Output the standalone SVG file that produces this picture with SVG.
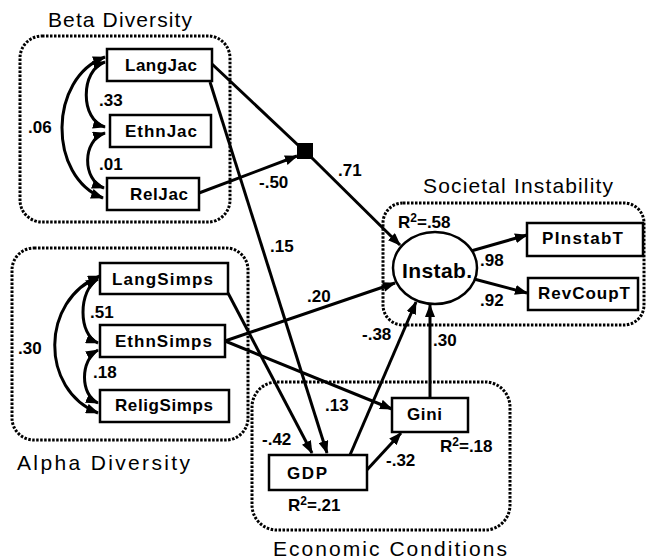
<svg xmlns="http://www.w3.org/2000/svg" width="647" height="560" viewBox="0 0 647 560">
<defs>
<marker id="ah" markerUnits="userSpaceOnUse" markerWidth="13" markerHeight="10" refX="12" refY="5" orient="auto-start-reverse" viewBox="0 0 13 10">
<path d="M0,0 L13,5 L0,10 z" fill="#000"/>
</marker>
<style>
.grp{fill:none;stroke:#000;stroke-width:3;stroke-dasharray:2.5 1.5}
.ttl{font-family:"Liberation Sans",Arial,sans-serif;font-size:21px;fill:#000}
.box{fill:#fff;stroke:#000;stroke-width:2.5}
.nt{font-family:"Liberation Sans",Arial,sans-serif;font-size:17px;font-weight:bold;fill:#000}
.lb{font-family:"Liberation Sans",Arial,sans-serif;font-size:17px;font-weight:bold;fill:#000}
.cn{fill:none;stroke:#000;stroke-width:3}
.arr{marker-end:url(#ah)}
.dbl{marker-start:url(#ah);marker-end:url(#ah)}
</style>
</defs>
<rect width="647" height="560" fill="#fff"/>

<g id="groups">
<rect class="grp" x="20" y="36" width="210" height="186" rx="22"/>
<text class="ttl" x="48" y="27" textLength="144" lengthAdjust="spacing">Beta Diversity</text>
<rect class="grp" x="12" y="248" width="236" height="192" rx="22"/>
<text class="ttl" x="17" y="470" textLength="173" lengthAdjust="spacing">Alpha Diversity</text>
<rect class="grp" x="383" y="203" width="261" height="122" rx="20"/>
<text class="ttl" x="423" y="193" textLength="190" lengthAdjust="spacing">Societal Instability</text>
<rect class="grp" x="252" y="382" width="258" height="148" rx="25"/>
<text class="ttl" x="273" y="556" textLength="234" lengthAdjust="spacing">Economic Conditions</text>
</g>

<g id="connectors">
<path class="cn" d="M212,64 L299,146"/>
<path class="cn arr" stroke-width="2.5" d="M311,157 L400,245"/>
<path class="cn arr" stroke-width="4" d="M199,193 L297,156"/>
<path class="cn arr" stroke-width="2.5" d="M210,82 L327,453"/>
<path class="cn arr" stroke-width="2.5" d="M228,293 L312,453"/>
<path class="cn arr" stroke-width="4" d="M225,341 L395,283"/>
<path class="cn arr" stroke-width="4" d="M225,341 L392,409"/>
<path class="cn arr" stroke-width="4.5" d="M350,455 L416,302"/>
<path class="cn arr" stroke-width="3.5" d="M430,398 L430,305"/>
<path class="cn arr" stroke-width="3" d="M365,472 L401,433"/>
<path class="cn arr" stroke-width="4" d="M471,251 L527,235"/>
<path class="cn arr" stroke-width="4" d="M474,279 L527,293"/>
<path class="cn dbl" stroke-width="3.5" d="M105,62 C80,70 80,120 105,127"/>
<path class="cn dbl" stroke-width="3.5" d="M105,133 C82,140 82,180 104,188"/>
<path class="cn dbl" stroke-width="3" d="M105,57 C48,78 48,177 103,198"/>
<path class="cn dbl" stroke-width="3.5" d="M98,279 C78,290 78,335 98,343"/>
<path class="cn dbl" stroke-width="3.5" d="M98,350 C80,360 80,395 98,403"/>
<path class="cn dbl" stroke-width="3.5" d="M100,276 C40,300 40,390 98,413"/>
</g>

<g id="labels">
<text class="lb" x="99" y="106">.33</text>
<text class="lb" x="28" y="133">.06</text>
<text class="lb" x="99" y="170">.01</text>
<text class="lb" x="259" y="188">-.50</text>
<text class="lb" x="338" y="176">.71</text>
<text class="lb" x="270" y="252">.15</text>
<text class="lb" x="307" y="302">.20</text>
<text class="lb" x="90" y="318">.51</text>
<text class="lb" x="18" y="354">.30</text>
<text class="lb" x="93" y="378">.18</text>
<text class="lb" x="262" y="445">-.42</text>
<text class="lb" x="325" y="411">.13</text>
<text class="lb" x="362" y="340">-.38</text>
<text class="lb" x="433" y="346">.30</text>
<text class="lb" x="386" y="466">-.32</text>
<text class="lb" x="480" y="266">.98</text>
<text class="lb" x="480" y="306">.92</text>
<text class="lb" x="398" y="228">R<tspan font-size="12" dy="-6">2</tspan><tspan dy="6">=.58</tspan></text>
<text class="lb" x="440" y="452">R<tspan font-size="12" dy="-6">2</tspan><tspan dy="6">=.18</tspan></text>
<text class="lb" x="288" y="511">R<tspan font-size="12" dy="-6">2</tspan><tspan dy="6">=.21</tspan></text>
</g>

<g id="square"><rect x="297" y="143" width="16" height="16" fill="#000"/></g>

<g id="LangJac"><rect class="box" x="107" y="49" width="105" height="32"/><text class="nt" x="125" y="71" textLength="72" lengthAdjust="spacing">LangJac</text></g>
<g id="EthnJac"><rect class="box" x="110" y="115" width="101" height="32"/><text class="nt" x="125" y="137" textLength="72" lengthAdjust="spacing">EthnJac</text></g>
<g id="RelJac"><rect class="box" x="107" y="178" width="92" height="32"/><text class="nt" x="130" y="200" textLength="58" lengthAdjust="spacing">RelJac</text></g>

<g id="LangSimps"><rect class="box" x="100" y="263" width="128" height="31"/><text class="nt" x="112" y="285" textLength="101" lengthAdjust="spacing">LangSimps</text></g>
<g id="EthnSimps"><rect class="box" x="100" y="325" width="125" height="32"/><text class="nt" x="115" y="347" textLength="97" lengthAdjust="spacing">EthnSimps</text></g>
<g id="ReligSimps"><rect class="box" x="100" y="390" width="129" height="32"/><text class="nt" x="115" y="411" textLength="98" lengthAdjust="spacing">ReligSimps</text></g>

<g id="Instab"><ellipse cx="435" cy="268" rx="42" ry="36" fill="#fff" stroke="#000" stroke-width="2.5"/><text x="402" y="278" font-family="Liberation Sans,Arial,sans-serif" font-size="21" font-weight="bold" textLength="70" lengthAdjust="spacing">Instab.</text></g>
<g id="PInstabT"><rect class="box" x="527" y="223" width="116" height="33"/><text class="nt" x="542" y="244" textLength="81" lengthAdjust="spacing">PInstabT</text></g>
<g id="RevCoupT"><rect class="box" x="528" y="278" width="110" height="32"/><text class="nt" x="538" y="299" textLength="92" lengthAdjust="spacing">RevCoupT</text></g>

<g id="Gini"><rect class="box" x="392" y="398" width="76" height="34"/><text class="nt" x="407" y="420" textLength="35" lengthAdjust="spacing">Gini</text></g>
<g id="GDP"><rect class="box" x="269" y="455" width="98" height="35"/><text class="nt" x="287" y="479" textLength="40" lengthAdjust="spacing">GDP</text></g>
</svg>
